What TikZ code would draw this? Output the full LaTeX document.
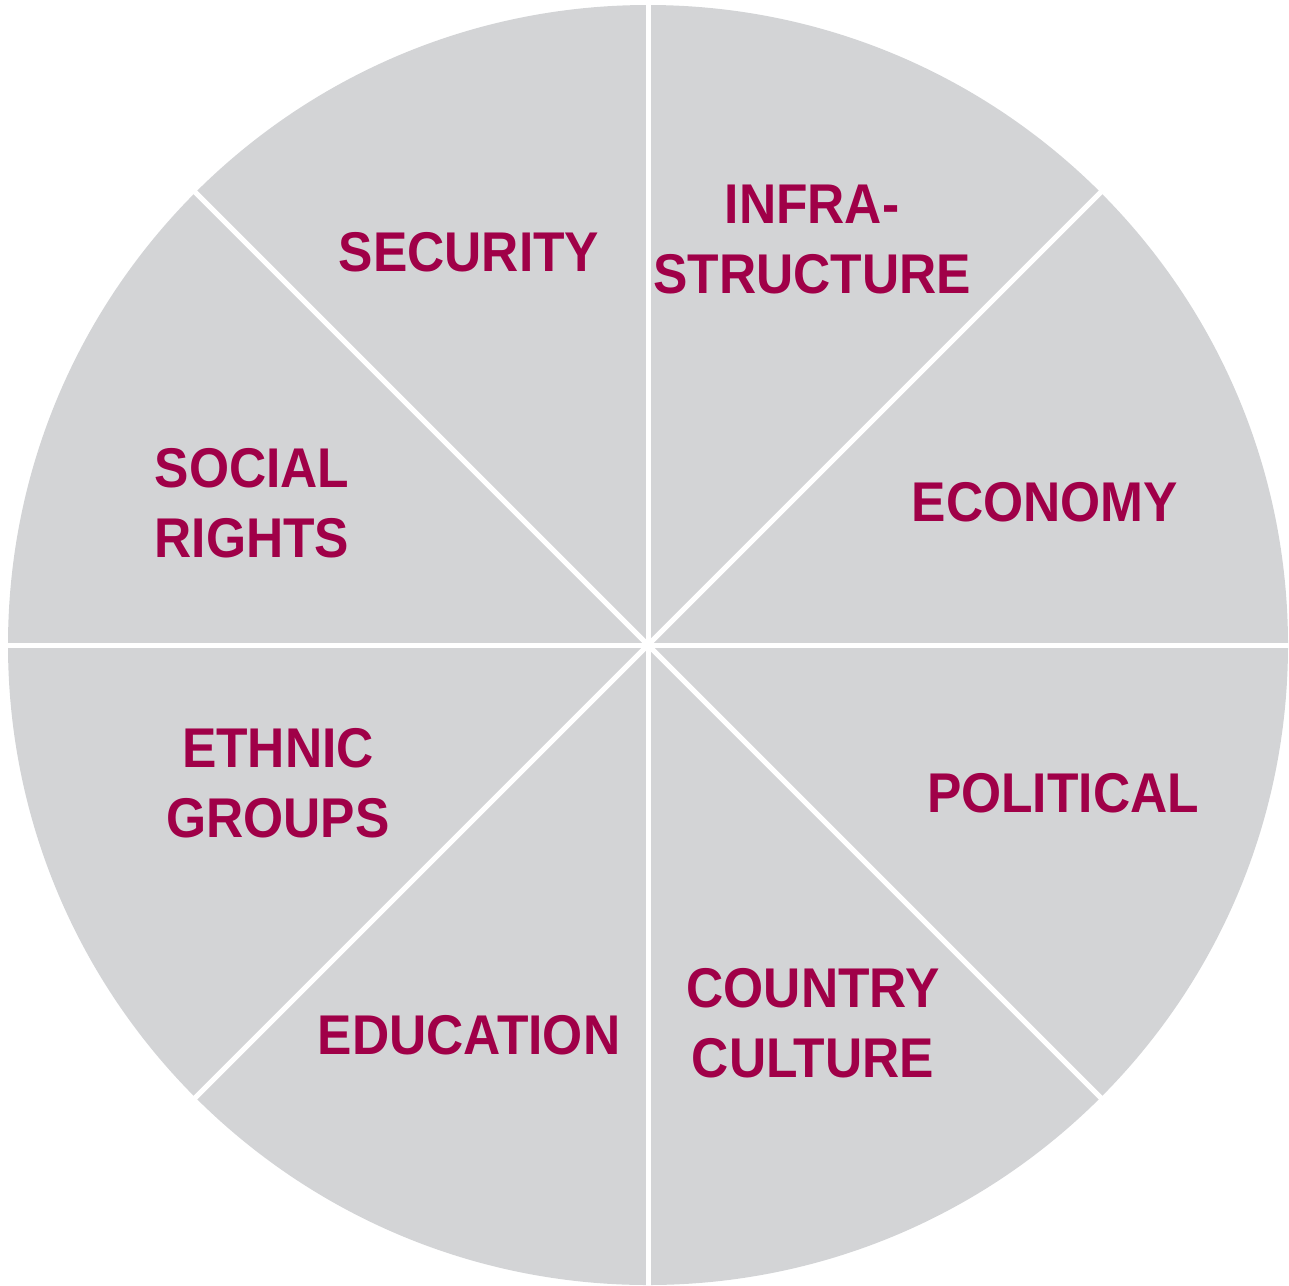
\documentclass[tikz,border=0pt]{standalone}
\usepackage{fontspec}
\setmainfont{Liberation Sans}
\newfontfamily\wheelfont[FakeStretch=0.92]{Liberation Sans}
\usepackage{xcolor}
\definecolor{wheelgray}{RGB}{211,212,214}
\definecolor{labelred}{RGB}{160,0,72}

\begin{document}
\begin{tikzpicture}[x=1pt, y=-1pt,
    divider/.style={draw=white, line width=5pt},
    sector/.style={text=labelred, align=center, inner sep=0pt,
        font=\wheelfont\bfseries\fontsize{56}{70}\selectfont}]
    \useasboundingbox (0,0) rectangle (1289,1285);
    \coordinate (c) at (648,645);
    \fill[wheelgray] (c) circle (640);

    % dividers between the sectors
    \foreach \a in {0,45,...,315}
        \draw[divider] (c) -- ++(\a:645);

    \node[sector] (security) at (469,252) {SECURITY};
    \node[sector] (infra) at (812,240) {INFRA-\\STRUCTURE};
    \node[sector] (economy) at (1045,502) {ECONOMY};
    \node[sector] (political) at (1063,793) {POLITICAL};
    \node[sector] (culture) at (813,1023) {COUNTRY\\CULTURE};
    \node[sector] (education) at (469,1035) {EDUCATION};
    \node[sector] (ethnic) at (278,783) {ETHNIC\\GROUPS};
    \node[sector] (social) at (252,503) {SOCIAL\\RIGHTS};
\end{tikzpicture}
\end{document}
